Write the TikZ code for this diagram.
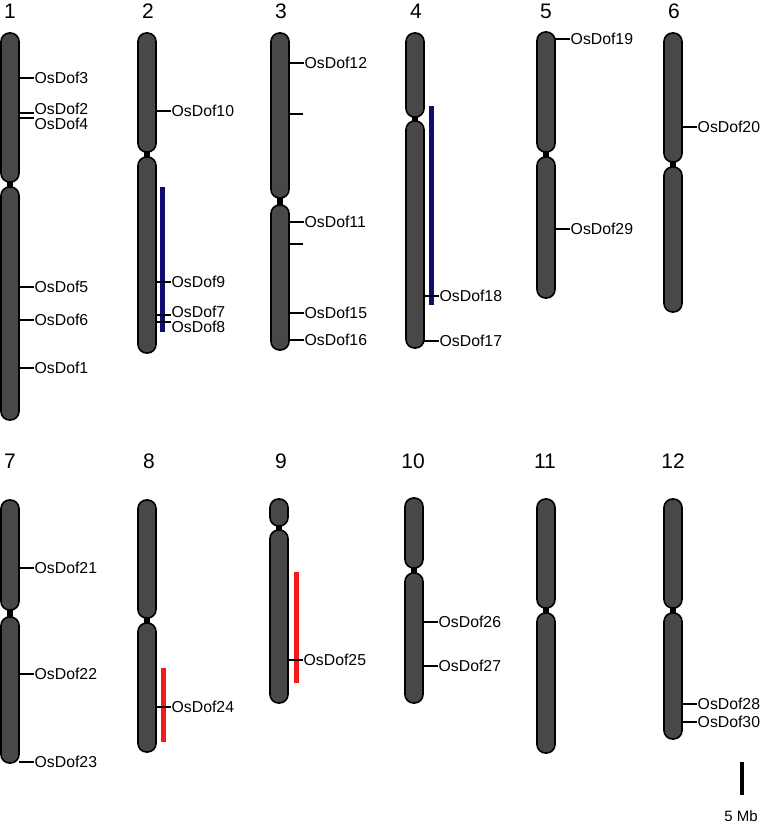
\documentclass[tikz,border=0pt]{standalone}
\usepackage{fontspec}
\setmainfont{Liberation Sans}
\definecolor{chromfill}{RGB}{72,72,72}
\definecolor{barblue}{RGB}{14,14,112}
\definecolor{barred}{RGB}{245,25,25}
\tikzset{
  arm/.style={fill=chromfill, draw=black, line width=1.6pt, rounded corners=8.5pt},
  neck/.style={fill=black, draw=none},
  tickline/.style={draw=black, line width=1.4pt},
  lab/.style={font=\fontsize{15.8}{18}\selectfont, inner sep=1pt, anchor=west},
  hdr/.style={font=\fontsize{21}{23}\selectfont, inner sep=0pt},
  bluebar/.style={draw=barblue, line width=5pt},
  redbar/.style={draw=barred, line width=5pt},
}
% #1 id, #2 left x, #3 top, #4 short arm bottom, #5 long arm top, #6 bottom
\newcommand\chromo[6]{%
  \fill[neck] (#2+6,#4-5) rectangle (#2+12,#5+5);
  \draw[arm] (#2,#3) rectangle (#2+18,#4);
  \draw[arm] (#2,#5) rectangle (#2+18,#6);
  \coordinate (#1top) at (#2+9,#3);
}
% #1 id, #2 right edge x, #3 tick y, #4 label y, #5 text
\newcommand\gene[5]{%
  \coordinate (#1a) at (#2,#3);
  \node[lab] (#1) at (#2+14.5,#4) {#5};
  \draw[tickline] (#1a) -- (#1a -| #1.west);
}
\newcommand\blank[3]{%
  \coordinate (#1a) at (#2,#3);
  \coordinate (#1b) at (#2+14,#3);
  \draw[tickline] (#1a) -- (#1b);
}
\begin{document}
\begin{tikzpicture}[x=1pt,y=-1pt]
\useasboundingbox (0,0) rectangle (761,824);

% headers
\node[hdr] (h1) at (10,11) {1};
\node[hdr] (h2) at (148,11) {2};
\node[hdr] (h3) at (281,11) {3};
\node[hdr] (h4) at (416,11) {4};
\node[hdr] (h5) at (546,11) {5};
\node[hdr] (h6) at (674,11) {6};
\node[hdr] (h7) at (10,461) {7};
\node[hdr] (h8) at (149,461) {8};
\node[hdr] (h9) at (281,461) {9};
\node[hdr] (h10) at (413,461) {10};
\node[hdr] (h11) at (545,461) {11};
\node[hdr] (h12) at (673,461) {12};

% chromosomes
\chromo{c1}{1}{33}{182}{187}{420}
\chromo{c2}{138}{33}{152}{157}{353}
\chromo{c3}{271}{33}{198}{205}{350}
\chromo{c4}{406}{33}{117}{121}{348}
\chromo{c5}{537}{32}{152}{157}{298}
\chromo{c6}{664}{33}{162}{167}{312}
\chromo{c7}{1}{500}{610}{617}{763}
\chromo{c8}{138}{500}{618}{623}{752}
\chromo{c9}{270}{499}{526}{530}{703}
\chromo{c10}{405}{498}{568}{573}{703}
\chromo{c11}{537}{499}{608}{613}{753}
\chromo{c12}{664}{499}{608}{613}{739}

% duplication bars
\coordinate (b2a) at (162,187); \coordinate (b2b) at (162,332);
\draw[bluebar] (b2a) -- (b2b);
\coordinate (b4a) at (431,106); \coordinate (b4b) at (431,305);
\draw[bluebar] (b4a) -- (b4b);
\coordinate (b8a) at (163.5,668); \coordinate (b8b) at (163.5,742);
\draw[redbar] (b8a) -- (b8b);
\coordinate (b9a) at (296,572); \coordinate (b9b) at (296,683);
\draw[redbar] (b9a) -- (b9b);

% genes chr1
\gene{g3}{19}{78}{78}{OsDof3}
\gene{g2}{19}{113}{109}{OsDof2}
\gene{g4}{19}{118}{124}{OsDof4}
\gene{g5}{19}{287}{287}{OsDof5}
\gene{g6}{19}{320}{320}{OsDof6}
\gene{g1}{19}{368}{368}{OsDof1}
% chr2
\gene{g10}{156}{111}{111}{OsDof10}
\gene{g9}{156}{282}{282}{OsDof9}
\gene{g7}{156}{315}{312}{OsDof7}
\gene{g8}{156}{322}{327}{OsDof8}
% chr3
\gene{g12}{289}{63}{63}{OsDof12}
\blank{u1}{289}{114}
\gene{g11}{289}{222}{222}{OsDof11}
\blank{u2}{289}{244}
\gene{g15}{289}{313}{313}{OsDof15}
\gene{g16}{289}{340}{340}{OsDof16}
% chr4
\gene{g18}{424}{296}{296}{OsDof18}
\gene{g17}{424}{341}{341}{OsDof17}
% chr5
\gene{g19}{555}{39}{39}{OsDof19}
\gene{g29}{555}{229}{229}{OsDof29}
% chr6
\gene{g20}{682}{127}{127}{OsDof20}
% chr7
\gene{g21}{19}{568}{568}{OsDof21}
\gene{g22}{19}{674}{674}{OsDof22}
\gene{g23}{19}{762}{762}{OsDof23}
% chr8
\gene{g24}{156}{707}{707}{OsDof24}
% chr9
\gene{g25}{288}{660}{660}{OsDof25}
% chr10
\gene{g26}{423}{622}{622}{OsDof26}
\gene{g27}{423}{666}{666}{OsDof27}
% chr12
\gene{g28}{682}{704}{704}{OsDof28}
\gene{g30}{682}{722}{722}{OsDof30}

% scale bar
\coordinate (sba) at (742,762);
\coordinate (sbb) at (742,795);
\draw[draw=black, line width=3.5pt] (sba) -- (sbb);
\node[font=\fontsize{15}{17}\selectfont, inner sep=0pt] (sbl) at (741,816) {5 Mb};
\end{tikzpicture}
\end{document}
